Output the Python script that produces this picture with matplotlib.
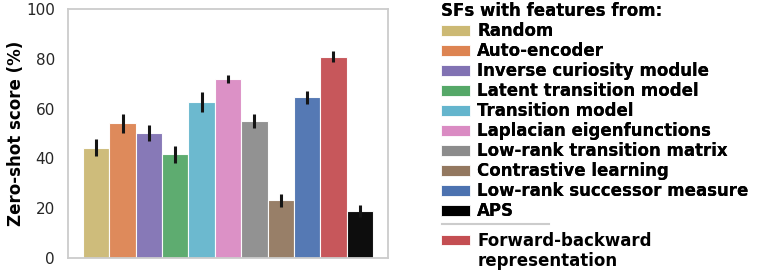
import matplotlib.pyplot as plt
from matplotlib.patches import Patch
from matplotlib.lines import Line2D

methods = ['Random', 'Auto-encoder', 'Inverse curiosity module', 'Latent transition model',
           'Transition model', 'Laplacian eigenfunctions', 'Low-rank transition matrix',
           'Contrastive learning', 'Low-rank successor measure',
           'Forward-backward representation', 'APS']
scores = [44.2, 54.1, 50.1, 41.6, 62.5, 71.8, 54.9, 23.2, 64.5, 80.9, 18.8]
errors = [3.4, 3.8, 3.2, 3.3, 4.0, 1.7, 2.9, 2.6, 2.5, 2.4, 2.3]
colors = ['#CCB974', '#DD8452', '#8172B3', '#55A868', '#64B5CD', '#DA8BC3',
          '#8C8C8C', '#937860', '#4C72B0', '#C44E52', '#000000']

fig = plt.figure(figsize=(7.58, 2.71), dpi=100)
ax = fig.add_axes([0.0897, 0.048, 0.4222, 0.919])

x = list(range(len(scores)))
ax.bar(x, scores, width=1.0, color=colors, edgecolor='white', linewidth=0.8, alpha=0.95)
ax.errorbar(x, scores, yerr=errors, fmt='none', ecolor='#151515', elinewidth=2.2, capsize=0)

ax.set_xlim(-1.07, 11.07)
ax.set_ylim(0, 100)
ax.set_yticks([0, 20, 40, 60, 80, 100])
ax.set_xticks([])
ax.tick_params(axis='y', length=0, labelsize=11, labelcolor='#262626', pad=9.5)
for s in ax.spines.values():
    s.set_color('#cccccc')
    s.set_linewidth(1.3)
ax.set_ylabel('Zero-shot score (%)', fontsize=12, fontweight='bold', labelpad=1)

# legend: the ten feature-based SFs, then a rule, then FB on its own
fs = 12
order = [0, 1, 2, 3, 4, 5, 6, 7, 8, 10]
handles = [Patch(facecolor=colors[i], edgecolor='white', linewidth=0.6) for i in order]
labels = [methods[i] for i in order]
leg1 = fig.legend(handles, labels, title='SFs with features from:', loc='upper left',
                  bbox_to_anchor=(0.569, 1.029), frameon=False, prop={'weight': 'bold', 'size': fs},
                  title_fontproperties={'weight': 'bold', 'size': fs}, alignment='left',
                  handlelength=1.75, handleheight=0.6, handletextpad=0.4, labelspacing=0.12,
                  borderpad=0.1)

fb_words = methods[9].split(' ')
fb_handles = [Patch(facecolor=colors[9], edgecolor='white', linewidth=0.6),
              Patch(facecolor='none', edgecolor='none')]
leg2 = fig.legend(fb_handles, fb_words, loc='upper left', bbox_to_anchor=(0.569, 0.181),
                  frameon=False, prop={'weight': 'bold', 'size': fs},
                  handlelength=1.75, handleheight=0.6, handletextpad=0.4, labelspacing=0.12,
                  borderpad=0.1)
fig.add_artist(leg1)
fig.add_artist(Line2D([0.583, 0.724], [0.173, 0.173], transform=fig.transFigure,
                      color='#cccccc', linewidth=1.5))

fig.savefig('out.png', dpi=100)
